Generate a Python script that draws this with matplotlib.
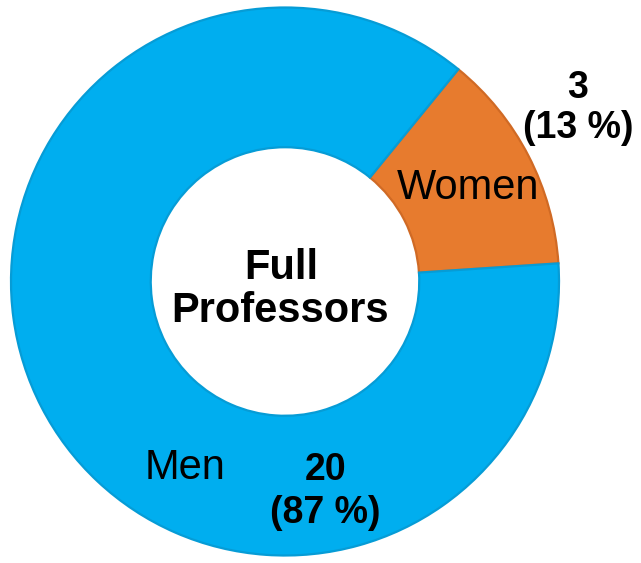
import matplotlib
matplotlib.use("Agg")
import matplotlib.pyplot as plt

labels = ["Women", "Men"]
counts = [3, 20]
colors = ["#E77B2E", "#00AEEF"]
edge_colors = ["#D06A25", "#069CD6"]
center_title = ["Full", "Professors"]

plt.rcParams['font.family'] = ['Liberation Sans', 'DejaVu Sans']

W, H = 641, 563
fig = plt.figure(figsize=(W / 100, H / 100), dpi=100)
ax = fig.add_axes([0, 0, 1, 1])

cx, cy = 285, H - 281.5
R = 274
width = 0.51

total = sum(counts)
wedges, _ = ax.pie(counts, colors=colors, startangle=3.8, counterclock=True,
                   radius=R, center=(cx, cy),
                   wedgeprops=dict(width=R * width, linewidth=1.6))
for w, ec in zip(wedges, edge_colors):
    w.set_edgecolor(ec)

ax.set_xlim(0, W)
ax.set_ylim(0, H)
ax.set_aspect('equal')
ax.axis('off')

# category labels inside the ring
ax.text(468, H - 188, labels[0], ha='center', va='center', fontsize=30, color='black')
ax.text(185, H - 468, labels[1], ha='center', va='center', fontsize=30, color='black')

# values
pct = [round(c / total * 100) for c in counts]
ax.text(578, H - 88, f"{counts[0]}", ha='center', va='center', fontsize=27, fontweight='bold')
ax.text(578, H - 128, f"({pct[0]} %)", ha='center', va='center', fontsize=27, fontweight='bold')
ax.text(326, H - 470, f"{counts[1]}", ha='center', va='center', fontsize=27, fontweight='bold')
ax.text(325, H - 513, f"({pct[1]} %)", ha='center', va='center', fontsize=27, fontweight='bold')

# center title
ax.text(281, H - 268, center_title[0], ha='center', va='center', fontsize=30, fontweight='bold')
ax.text(280, H - 311, center_title[1], ha='center', va='center', fontsize=30, fontweight='bold')

fig.savefig("out.png", dpi=100, facecolor='white')
